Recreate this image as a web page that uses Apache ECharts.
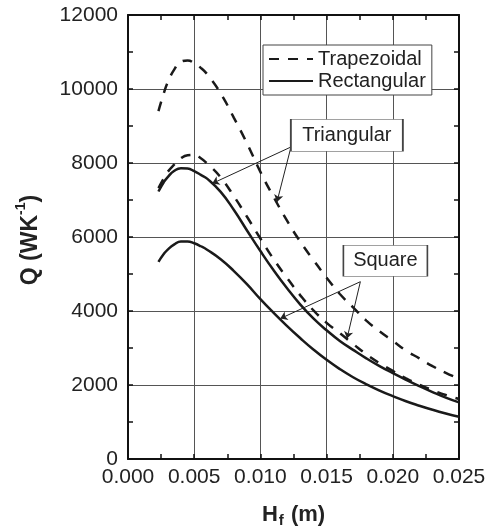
<!DOCTYPE html>
<html>
<head>
<meta charset="utf-8">
<script src="https://cdn.jsdelivr.net/npm/echarts@6/dist/echarts.min.js"></script>
<style>
  html, body { margin: 0; padding: 0; background: #fff; }
  #chart { width: 489px; height: 531px; }
</style>
</head>
<body>
<div id="chart"></div>
<script>
// fin height H_f (m)
const hf = [0.0023, 0.0027, 0.003, 0.0035, 0.004, 0.0045, 0.005, 0.0055, 0.006, 0.007, 0.008, 0.009,
            0.010, 0.011, 0.012, 0.013, 0.014, 0.015, 0.016, 0.017, 0.018, 0.019, 0.020, 0.021,
            0.022, 0.023, 0.024, 0.025];

// Q (W/K)
const trapTriangular = [9400, 9880, 10180, 10530, 10740, 10770, 10700, 10570, 10390, 9880, 9220, 8520,
                        7760, 7080, 6450, 5880, 5380, 4900, 4460, 4100, 3740, 3450, 3190, 2930,
                        2720, 2510, 2330, 2170];
const trapSquare     = [7320, 7580, 7760, 7960, 8130, 8210, 8220, 8130, 7980, 7610, 7100, 6540,
                        5960, 5400, 4900, 4430, 4020, 3680, 3400, 3110, 2830, 2590, 2380, 2180,
                        2010, 1860, 1730, 1620];
const rectTriangular = [7230, 7480, 7620, 7790, 7860, 7850, 7780, 7680, 7570, 7220, 6730, 6170,
                        5620, 5100, 4620, 4180, 3800, 3480, 3190, 2950, 2720, 2510, 2320, 2140,
                        1970, 1810, 1660, 1530];
const rectSquare     = [5330, 5540, 5660, 5800, 5880, 5880, 5830, 5750, 5650, 5400, 5080, 4720,
                        4320, 3950, 3600, 3270, 2960, 2680, 2430, 2210, 2020, 1850, 1700, 1560,
                        1440, 1330, 1230, 1140];

// annotation boxes and arrows (data coordinates)
const labelBoxes = [
  { text: 'Triangular', at: [0.01653, 8750], size: [112, 32] },
  { text: 'Square',     at: [0.01944, 5357], size: [84, 31] }
];
const arrows = [
  [[0.01231, 8433], [0.00636, 7446]],
  [[0.01231, 8433], [0.01125, 6947]],
  [[0.01755, 4792], [0.01150, 3795]],
  [[0.01755, 4792], [0.01654, 3254]]
];

const FONT = 'Liberation Sans, Arial, sans-serif';
const INK = '#222';

const zip = (ys) => hf.map((x, i) => [x, ys[i]]);

const chart = echarts.init(document.getElementById('chart'));

function curve(name, ys, dashed) {
  return {
    name: name,
    type: 'line',
    data: zip(ys),
    smooth: 0.5,
    symbol: 'none',
    lineStyle: { color: '#1a1a1a', width: 2.5, type: dashed ? [10, 9] : 'solid' },
    itemStyle: { color: '#1a1a1a' },
    z: 3
  };
}

const series = [
  curve('Trapezoidal', trapTriangular, true),
  curve('Trapezoidal', trapSquare, true),
  curve('Rectangular', rectTriangular, false),
  curve('Rectangular', rectSquare, false)
];

// arrows and label boxes hang off the first curve
series[0].markLine = {
  silent: true,
  symbol: ['none', 'arrow'],
  symbolSize: 7,
  label: { show: false },
  lineStyle: { color: INK, width: 1, type: 'solid' },
  data: arrows.map(a => [{ coord: a[0] }, { coord: a[1] }])
};
series[0].markPoint = {
  silent: true,
  data: labelBoxes.map(b => ({
    coord: b.at,
    symbol: 'rect',
    symbolSize: b.size,
    itemStyle: { color: '#fff', borderColor: '#444', borderWidth: 1 },
    label: { show: true, position: 'inside', formatter: b.text, color: INK, fontSize: 20, fontFamily: FONT }
  }))
};

const frameX = {
  type: 'value', min: 0, max: 0.025, interval: 0.005,
  axisLine: { show: true, onZero: false, lineStyle: { color: '#111', width: 2 } },
  axisTick: { show: true, inside: true, length: 5, lineStyle: { color: '#111', width: 1.5 } },
  minorTick: { show: true, splitNumber: 2, length: 5, lineStyle: { color: '#111', width: 1.5 } }
};
const frameY = {
  type: 'value', min: 0, max: 12000, interval: 2000,
  axisLine: { show: true, onZero: false, lineStyle: { color: '#111', width: 2 } },
  axisTick: { show: true, inside: true, length: 5, lineStyle: { color: '#111', width: 1.5 } },
  minorTick: { show: true, splitNumber: 2, length: 5, lineStyle: { color: '#111', width: 1.5 } }
};

const option = {
  animation: false,
  backgroundColor: '#fff',
  grid: { left: 128, right: 30, top: 15, bottom: 72, outerBoundsMode: 'none' },
  legend: {
    left: 263, top: 45, orient: 'vertical',
    data: ['Trapezoidal', 'Rectangular'],
    backgroundColor: '#fff', borderColor: '#444', borderWidth: 1, borderRadius: 0,
    padding: [4, 6, 4, 5], itemGap: 2, itemWidth: 44, itemHeight: 14,
    itemStyle: { opacity: 0 },
    textStyle: { fontSize: 20, color: INK, fontFamily: FONT }
  },
  xAxis: [
    Object.assign({}, frameX, {
      position: 'bottom',
      name: '{b|H}{s|f}{b| (m)}',
      nameLocation: 'middle', nameGap: 45,
      nameTextStyle: {
        rich: {
          b: { fontSize: 22, fontWeight: 'bold', color: INK, fontFamily: FONT, verticalAlign: 'top' },
          s: { fontSize: 15, fontWeight: 'bold', color: INK, fontFamily: FONT, verticalAlign: 'top', padding: [9, 1, 0, 1] }
        }
      },
      axisLabel: { margin: 8, fontSize: 21, color: INK, fontFamily: FONT, formatter: v => v.toFixed(3) },
      splitLine: { show: true, lineStyle: { color: '#555', width: 1 } }
    }),
    Object.assign({}, frameX, { position: 'top', axisLabel: { show: false }, splitLine: { show: false } })
  ],
  yAxis: [
    Object.assign({}, frameY, {
      position: 'left',
      axisLabel: { margin: 10, fontSize: 21, color: INK, fontFamily: FONT, formatter: v => String(v) },
      splitLine: { show: true, lineStyle: { color: '#555', width: 1 } }
    }),
    Object.assign({}, frameY, { position: 'right', axisLabel: { show: false }, splitLine: { show: false } })
  ],
  graphic: [{
    type: 'text', x: 28, y: 240, rotation: Math.PI / 2,
    style: {
      text: '{b|Q (WK}{s|-1}{b|)}',
      align: 'center', verticalAlign: 'middle',
      rich: {
        b: { fontSize: 23, fontWeight: 'bold', fill: INK, fontFamily: FONT, lineHeight: 28, verticalAlign: 'bottom' },
        s: { fontSize: 14, fontWeight: 'bold', fill: INK, fontFamily: FONT, lineHeight: 28, verticalAlign: 'top' }
      }
    }
  }],
  series: series
};

chart.setOption(option);
</script>
</body>
</html>
